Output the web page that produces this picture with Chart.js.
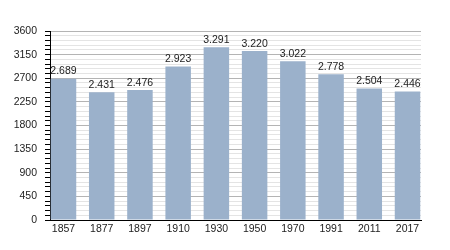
<!DOCTYPE html>
<html>
<head>
<meta charset="utf-8">
<script src="https://cdn.jsdelivr.net/npm/chart.js@4"></script>
<style>
  html, body { margin: 0; padding: 0; background: #fff; }
  #wrap { width: 450px; height: 250px; }
</style>
</head>
<body>
<div id="wrap"><canvas id="popChart" width="450" height="250"></canvas></div>
<script>
// Population by census year
const years = ["1857", "1877", "1897", "1910", "1930", "1950", "1970", "1991", "2011", "2017"];
const population = [2689, 2431, 2476, 2923, 3291, 3220, 3022, 2778, 2504, 2446];
const yTicks = [0, 450, 900, 1350, 1800, 2250, 2700, 3150, 3600];

// Formats numbers with a dot as thousands separator
function formatPop(v) {
  return String(v).replace(/\B(?=(\d{3})+(?!\d))/g, ".");
}

// Draws the value above each bar
const barLabels = {
  id: "barLabels",
  afterDatasetsDraw(chart) {
    const ctx = chart.ctx;
    const meta = chart.getDatasetMeta(0);
    ctx.save();
    ctx.font = "10.5px 'Liberation Sans', Arial, sans-serif";
    ctx.fillStyle = "#222";
    ctx.textAlign = "center";
    ctx.textBaseline = "bottom";
    meta.data.forEach((bar, i) => {
      ctx.fillText(formatPop(population[i]), bar.x, bar.y - 2);
    });
    ctx.restore();
  }
};

const isMajor = v => yTicks.includes(v);

new Chart(document.getElementById("popChart"), {
  type: "bar",
  data: {
    datasets: [{
      data: population.map((p, i) => ({ x: i, y: p })),
      backgroundColor: "#9bb1cb",
      categoryPercentage: 0.667,
      barPercentage: 1.0
    }]
  },
  options: {
    responsive: false,
    animation: false,
    layout: { padding: { left: 0, right: 29, top: 31, bottom: 0 } },
    plugins: {
      legend: { display: false },
      tooltip: { enabled: false }
    },
    scales: {
      x: {
        type: "linear",
        min: -0.353,
        max: 9.353,
        offset: false,
        grid: { display: false, drawTicks: false },
        border: { display: true, color: "#000", width: 1 },
        afterBuildTicks(scale) {
          scale.ticks = years.map((y, i) => ({ value: i }));
        },
        ticks: {
          color: "#222",
          padding: 3,
          maxRotation: 0,
          autoSkip: false,
          font: { family: "'Liberation Sans', Arial, sans-serif", size: 10.5 },
          callback: (v, i) => years[i]
        },
        afterFit(scale) { scale.height = 30; }
      },
      y: {
        min: 0,
        max: 3600,
        grid: {
          color: c => isMajor(c.tick.value) ? "#b4b4b4" : "#e4e4e4",
          tickColor: "#000",
          tickLength: 5
        },
        border: { display: true, color: "#000", width: 1 },
        ticks: {
          stepSize: 90,
          autoSkip: false,
          padding: 8,
          color: "#222",
          font: { family: "'Liberation Sans', Arial, sans-serif", size: 10.5 },
          callback: v => isMajor(v) ? String(v) : ""
        },
        afterFit(scale) { scale.width = 50; }
      }
    }
  },
  plugins: [barLabels]
});
</script>
</body>
</html>
